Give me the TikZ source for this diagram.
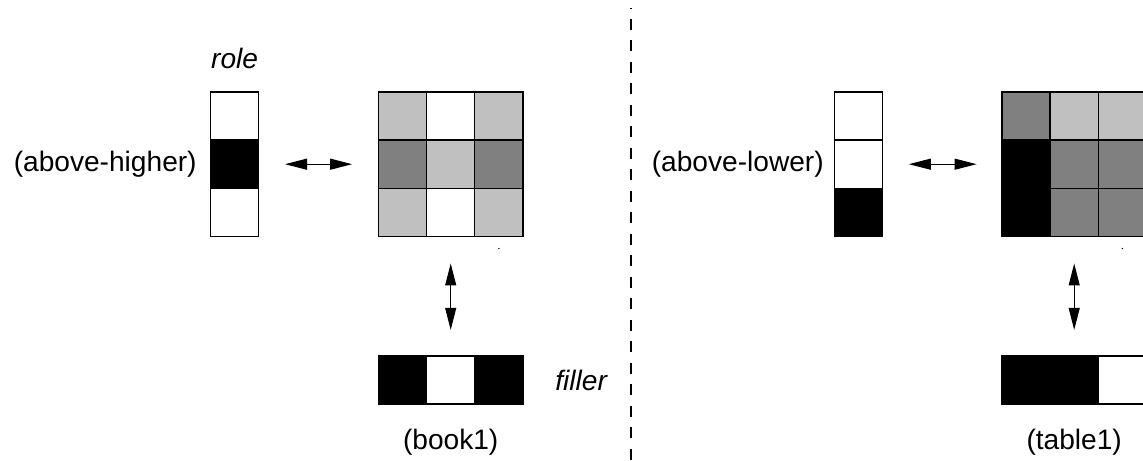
\documentclass[tikz,border=0pt]{standalone}
\usepackage{fontspec}
\setmainfont{Liberation Sans}
\usetikzlibrary{arrows.meta,positioning}

\definecolor{lightcell}{RGB}{192,192,192}
\definecolor{darkcell}{RGB}{128,128,128}

\tikzset{
  cell/.style={draw, line width=0.7pt, minimum size=0.964cm, inner sep=0pt, outer sep=0pt},
  lbl/.style={inner sep=0pt, font=\fontsize{16}{19}\selectfont},
  emph/.style={inner sep=0pt, font=\fontsize{16}{19}\selectfont\itshape},
  link/.style={{Triangle[length=0.44cm,width=0.22cm]}-{Triangle[length=0.44cm,width=0.22cm]}, line width=0.6pt},
  divider/.style={line width=1.2pt, dash pattern=on 0.22cm off 0.21cm, dash phase=0.21cm}
}

\begin{document}
\begin{tikzpicture}[node distance=0.964cm, on grid]
    \useasboundingbox (0,0) rectangle (22.86,9.22);
    \clip (0,0) rectangle (22.86,9.22);

    % book1: role vector
    \node[cell, fill=white] (br1) at (4.692,6.9) {};
    \node[cell, fill=black] (br2) [below=of br1] {};
    \node[cell, fill=white] (br3) [below=of br2] {};
    \node[emph] (roletxt) [above=1.16cm of br1] {role};
    \node[lbl, anchor=east] (highertxt) at ([xshift=-0.27cm]br2.west) {(above-higher)};

    % book1: binding matrix
    \node[cell, fill=lightcell] (bm11) at (8.05,6.9) {};
    \node[cell, fill=white] (bm12) [right=of bm11] {};
    \node[cell, fill=lightcell] (bm13) [right=of bm12] {};
    \node[cell, fill=darkcell] (bm21) [below=of bm11] {};
    \node[cell, fill=lightcell] (bm22) [right=of bm21] {};
    \node[cell, fill=darkcell] (bm23) [right=of bm22] {};
    \node[cell, fill=lightcell] (bm31) [below=of bm21] {};
    \node[cell, fill=white] (bm32) [right=of bm31] {};
    \node[cell, fill=lightcell] (bm33) [right=of bm32] {};
    \fill ([yshift=-0.24cm]bm33.south) circle (0.4pt);

    % book1: filler vector
    \node[cell, fill=black] (bf1) at (8.05,1.62) {};
    \node[cell, fill=white] (bf2) [right=of bf1] {};
    \node[cell, fill=black] (bf3) [right=of bf2] {};
    \node[emph, anchor=west] (fillertxt) at ([xshift=0.64cm]bf3.east) {filler};
    \node[lbl] (booktxt) [below=1.24cm of bf2] {(book1)};

    \draw[link, shorten <=0.526cm, shorten >=0.526cm] (br2) -- (bm21);
    \draw[link, shorten <=0.54cm, shorten >=0.52cm] (bm32) -- (bf2);

    % separator
    \coordinate (divtop) at (12.614,9.06);
    \coordinate (divbot) at (12.614,0);
    \draw[divider] (divtop) -- (divbot);

    % table1: role vector
    \node[cell, fill=white] (tr1) at (17.174,6.9) {};
    \node[cell, fill=white] (tr2) [below=of tr1] {};
    \node[cell, fill=black] (tr3) [below=of tr2] {};
    \node[lbl, anchor=east] (lowertxt) at ([xshift=-0.21cm]tr2.west) {(above-lower)};

    % table1: binding matrix
    \node[cell, fill=darkcell] (tm11) at (20.52,6.9) {};
    \node[cell, fill=lightcell] (tm12) [right=of tm11] {};
    \node[cell, fill=lightcell] (tm13) [right=of tm12] {};
    \node[cell, fill=black] (tm21) [below=of tm11] {};
    \node[cell, fill=darkcell] (tm22) [right=of tm21] {};
    \node[cell, fill=darkcell] (tm23) [right=of tm22] {};
    \node[cell, fill=black] (tm31) [below=of tm21] {};
    \node[cell, fill=darkcell] (tm32) [right=of tm31] {};
    \node[cell, fill=darkcell] (tm33) [right=of tm32] {};
    \fill ([yshift=-0.24cm]tm33.south) circle (0.4pt);

    % table1: filler vector
    \node[cell, fill=black] (tf1) at (20.52,1.62) {};
    \node[cell, fill=black] (tf2) [right=of tf1] {};
    \node[cell, fill=white] (tf3) [right=of tf2] {};
    \node[lbl] (tabletxt) [below=1.24cm of tf2] {(table1)};

    \draw[link, shorten <=0.52cm, shorten >=0.506cm] (tr2) -- (tm21);
    \draw[link, shorten <=0.54cm, shorten >=0.52cm] (tm32) -- (tf2);
\end{tikzpicture}
\end{document}
